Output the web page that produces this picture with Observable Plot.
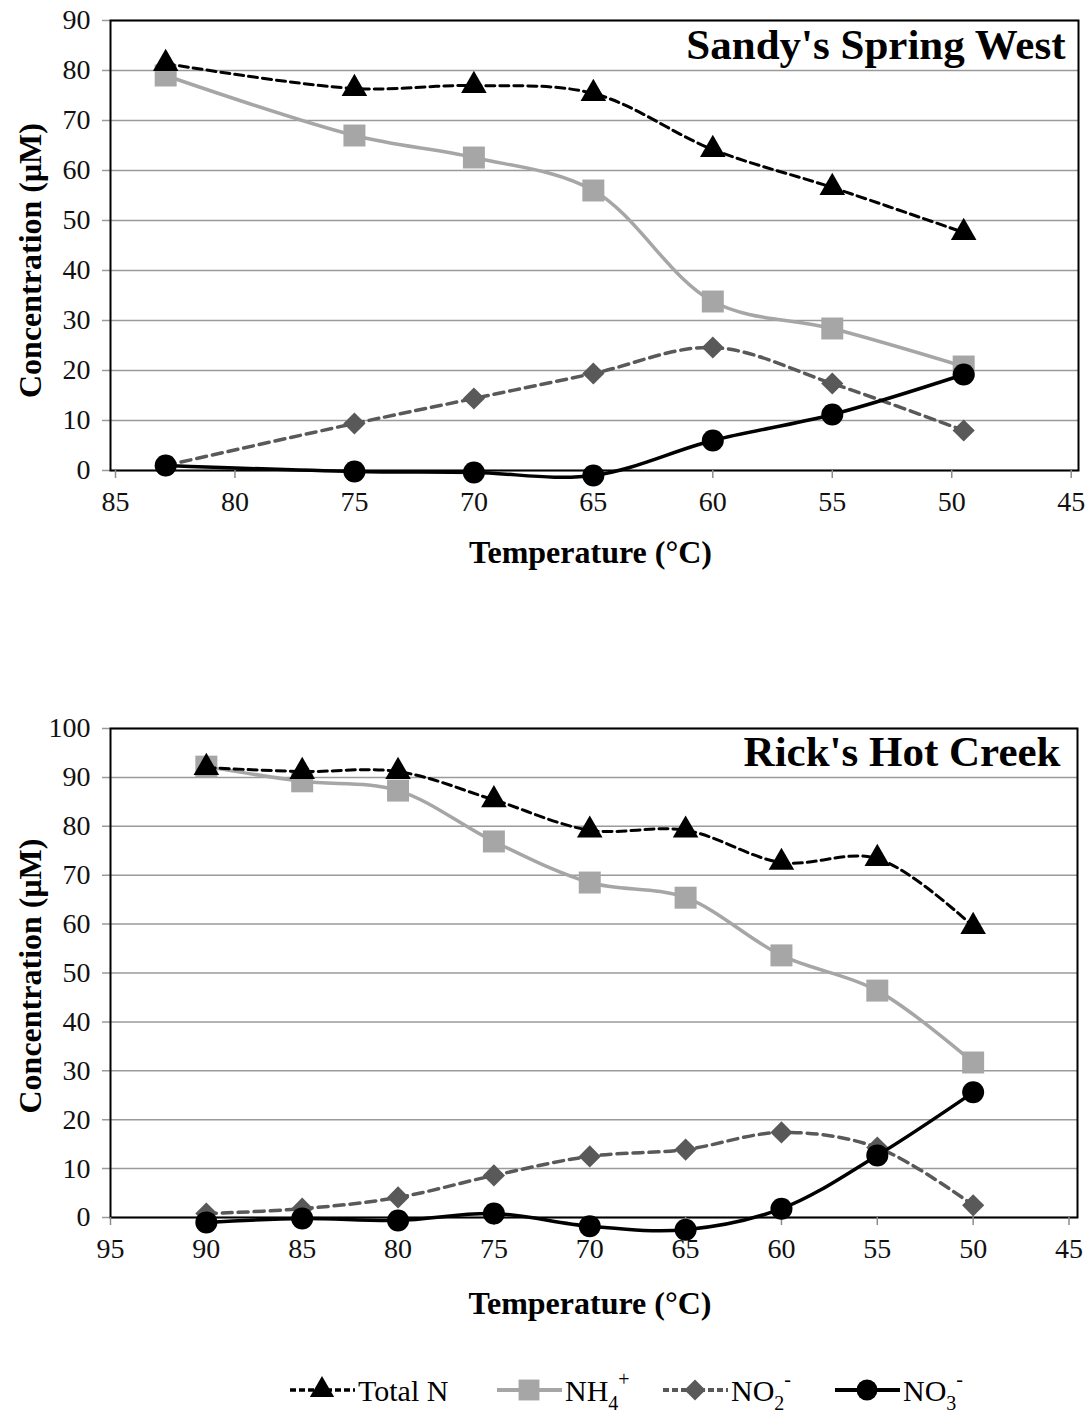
<!DOCTYPE html>
<html><head><meta charset="utf-8">
<script src="https://cdn.jsdelivr.net/npm/d3@7"></script>
<script src="https://cdn.jsdelivr.net/npm/@observablehq/plot@0.6"></script>
<style>
body{margin:0;background:#fff;}
#root{width:1087px;height:1416px;position:relative;overflow:hidden;background:#fff;}
#root svg{display:block;}
#root svg text{font-family:'Liberation Serif','Times New Roman',serif;}
</style></head><body><div id="root"></div>
<script>
// ---------- data ----------
const seriesNames = ["Total N", "NH4+", "NO2-", "NO3-"];

// Sandy's Spring West
const sandyTemp   = [82.9, 75, 70, 65, 60, 55, 49.5];
const sandyTotalN = [81.4, 76.4, 77.0, 75.4, 64.2, 56.6, 47.6];
const sandyNH4    = [79.0, 67.0, 62.6, 56.0, 33.8, 28.4, 20.8];
const sandyNO2    = [1.0, 9.4, 14.4, 19.4, 24.6, 17.4, 8.0];
const sandyNO3    = [1.0, -0.2, -0.4, -1.0, 6.0, 11.2, 19.2];
const sandyXTicks = [85, 80, 75, 70, 65, 60, 55, 50, 45];
const sandyYTicks = [0, 10, 20, 30, 40, 50, 60, 70, 80, 90];

// Rick's Hot Creek
const rickTemp   = [90, 85, 80, 75, 70, 65, 60, 55, 50];
const rickTotalN = [92.0, 91.2, 91.2, 85.4, 79.2, 79.2, 72.6, 73.4, 59.5];
const rickNH4    = [92.2, 89.2, 87.3, 76.9, 68.5, 65.4, 53.6, 46.4, 31.7];
const rickNO2    = [0.8, 1.8, 4.1, 8.6, 12.5, 13.9, 17.4, 14.3, 2.5];
const rickNO3    = [-1.0, -0.2, -0.6, 0.8, -1.8, -2.5, 1.8, 12.7, 25.6];
const rickXTicks = [95, 90, 85, 80, 75, 70, 65, 60, 55, 50, 45];
const rickYTicks = [0, 10, 20, 30, 40, 50, 60, 70, 80, 90, 100];

// ---------- styles ----------
const FONT = "'Liberation Serif', 'Times New Roman', serif";
const diamondSym = d3.symbolDiamond2 || "diamond";
const styles = {
  "Total N": {color: "#000000", dash: "9,5", width: 3, symbol: "triangle", r: 9.5},
  "NH4+":    {color: "#a6a6a6", dash: null, width: 3.5, symbol: "square", r: 12.4},
  "NO2-":    {color: "#595959", dash: "10,6", width: 3.5, symbol: diamondSym, r: 10},
  "NO3-":    {color: "#000000", dash: null, width: 3.5, symbol: "circle", r: 11}
};
const drawOrder = ["NH4+", "Total N", "NO2-", "NO3-"];

function panel(o) {
  const data = [];
  seriesNames.forEach((name, i) =>
    o.temps.forEach((t, j) => data.push({series: name, temp: t, value: o.values[i][j]})));
  const marks = [
    Plot.ruleY(o.yTicks, {stroke: "#9a9a9a", strokeWidth: 1.5}),
    Plot.frame({insetLeft: 8, stroke: "#000", strokeWidth: 2}),
    Plot.axisX({ticks: o.xTicks, tickSize: 8, tickPadding: 13, stroke: "#8c8c8c", strokeWidth: 1.5,
      fill: "#111", fontSize: 28, fontFamily: FONT, tickFormat: d => String(d), label: null}),
    Plot.axisY({ticks: o.yTicks, tickSize: 0, tickPadding: 12, fill: "#111", fontSize: 28, fontFamily: FONT,
      tickFormat: d => String(d), label: null})
  ];
  for (const name of drawOrder) {
    const s = styles[name];
    const sub = data.filter(d => d.series === name);
    marks.push(Plot.line(sub, {x: "temp", y: "value", stroke: s.color, strokeWidth: s.width,
      strokeDasharray: s.dash || undefined, curve: "catmull-rom"}));
    marks.push(Plot.dot(sub, {x: "temp", y: "value", symbol: s.symbol, r: s.r, fill: s.color, stroke: "none"}));
  }
  marks.push(Plot.text([o.title], {frameAnchor: "top-right", dx: o.titleDx, dy: o.titleDy, lineAnchor: "top",
    textAnchor: "end", fontSize: 43, fontWeight: "bold", fontFamily: FONT, fill: "#000"}));
  marks.push(Plot.text(["Temperature (°C)"], {frameAnchor: "bottom", dy: o.xLabelDy, lineAnchor: "middle",
    textAnchor: "middle", fontSize: 32, fontWeight: "bold", fontFamily: FONT, fill: "#000"}));
  marks.push(Plot.text(["Concentration (μM)"], {frameAnchor: "left", dx: -72, dy: o.yLabelDy, rotate: -90,
    textAnchor: "middle", lineAnchor: "middle", fontSize: 32, fontWeight: "bold", fontFamily: FONT, fill: "#000"}));
  return Plot.plot({
    width: 1087, height: o.height,
    marginTop: o.marginTop, marginBottom: o.marginBottom, marginLeft: 102, marginRight: o.marginRight,
    x: {domain: o.xDomain, range: o.xRange},
    y: {domain: o.yDomain},
    style: {fontFamily: FONT, fontSize: "28px", color: "#000", background: "#fff", overflow: "visible"},
    marks
  });
}

const root = document.getElementById("root");

root.appendChild(panel({
  temps: sandyTemp, values: [sandyTotalN, sandyNH4, sandyNO2, sandyNO3],
  xDomain: [85, 45], xRange: [115, 1070.7], xTicks: sandyXTicks,
  yDomain: [0, 90], yTicks: sandyYTicks,
  height: 600, marginTop: 20, marginBottom: 130, marginRight: 9,
  title: "Sandy's Spring West", titleDx: -13, titleDy: 8, xLabelDy: 82, yLabelDy: 15
}));

root.appendChild(panel({
  temps: rickTemp, values: [rickTotalN, rickNH4, rickNO2, rickNO3],
  xDomain: [95, 45], xRange: [110, 1068.5], xTicks: rickXTicks,
  yDomain: [0, 100], yTicks: rickYTicks,
  height: 740, marginTop: 128, marginBottom: 123, marginRight: 10,
  title: "Rick's Hot Creek", titleDx: -17, titleDy: 7, xLabelDy: 86, yLabelDy: 3
}));

// ---------- legend ----------
const legendItems = [
  {name: "Total N", x: 290, parts: [["Total N", null]]},
  {name: "NH4+", x: 497, parts: [["NH", null], ["4", "sub"], ["+", "sup"]]},
  {name: "NO2-", x: 663, parts: [["NO", null], ["2", "sub"], ["-", "sup"]]},
  {name: "NO3-", x: 835, parts: [["NO", null], ["3", "sub"], ["-", "sup"]]}
];
const leg = d3.create("svg").attr("width", 1087).attr("height", 76)
  .style("font-family", FONT).style("display", "block");
const cy = 50;
for (const it of legendItems) {
  const s = styles[it.name];
  const g = leg.append("g");
  g.append("line").attr("x1", it.x).attr("x2", it.x + 65).attr("y1", cy).attr("y2", cy)
    .attr("stroke", s.color).attr("stroke-width", s.width + 0.5)
    .attr("stroke-dasharray", s.dash ? "6,3" : null);
  const sym = typeof s.symbol === "string"
    ? {triangle: d3.symbolTriangle, square: d3.symbolSquare, circle: d3.symbolCircle}[s.symbol]
    : s.symbol;
  const rr = s.r * 0.95;
  g.append("path").attr("transform", `translate(${it.x + 32},${cy})`)
    .attr("d", d3.symbol(sym, Math.PI * rr * rr)()).attr("fill", s.color);
  const t = g.append("text").attr("x", it.x + 68).attr("y", cy + 11)
    .attr("font-size", 30).attr("fill", "#000").attr("font-family", FONT);
  for (const [txt, kind] of it.parts) {
    const sp = t.append("tspan").text(txt);
    if (kind === "sub") sp.attr("font-size", 20).attr("dy", 9);
    if (kind === "sup") sp.attr("font-size", 20).attr("dy", -24);
  }
}
root.appendChild(leg.node());
</script>
</body></html>
